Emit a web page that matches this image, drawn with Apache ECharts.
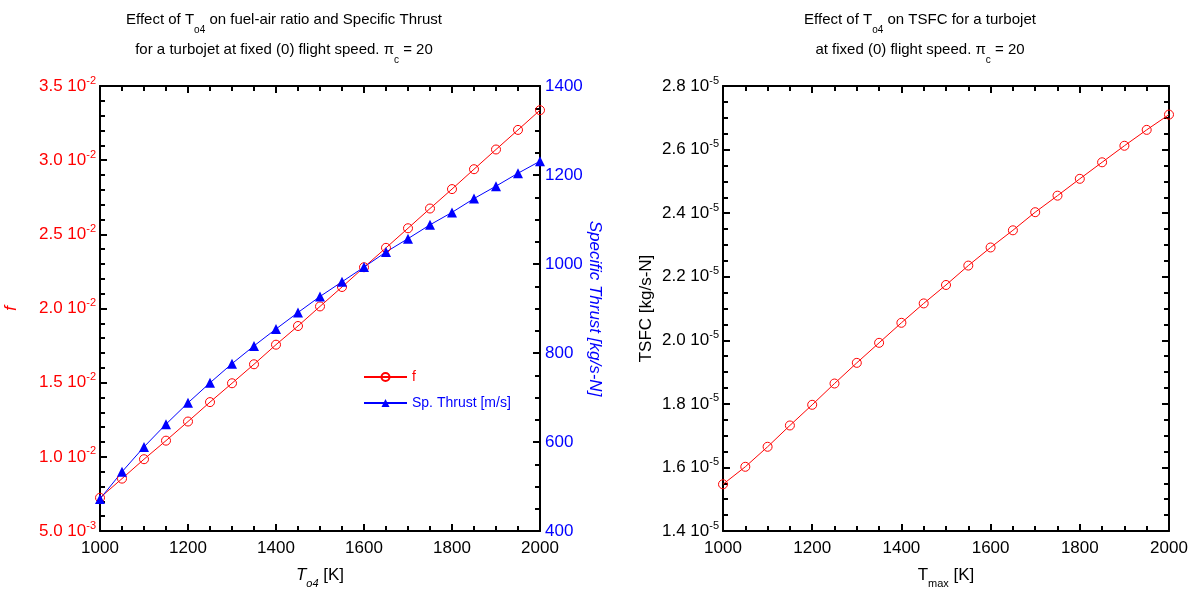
<!DOCTYPE html>
<html>
<head>
<meta charset="utf-8">
<script src="https://cdn.jsdelivr.net/npm/echarts@6/dist/echarts.min.js"></script>
<style>
  html, body { margin: 0; padding: 0; background: #fff; }
  #main { width: 1198px; height: 593px; }
</style>
</head>
<body>
<div id="main"></div>
<script>
// T04 values [K]
let temps = [1000, 1050, 1100, 1150, 1200, 1250, 1300, 1350, 1400, 1450, 1500,
  1550, 1600, 1650, 1700, 1750, 1800, 1850, 1900, 1950, 2000];
// fuel-air ratio f
let fuelAir = [0.00724, 0.00853, 0.00984, 0.01109, 0.01238, 0.01369, 0.01496, 0.01624,
  0.01756, 0.01882, 0.02014, 0.02145, 0.02278, 0.02409, 0.02541, 0.02674, 0.02805,
  0.02939, 0.03072, 0.03204, 0.03337];
// specific thrust
let spThrust = [472, 533, 589, 640, 688, 733, 776, 816, 854, 891, 927, 960, 993,
  1027, 1057, 1088, 1116, 1147, 1175, 1204, 1231];
// TSFC [kg/s-N]
let tsfc = [1.547e-5, 1.602e-5, 1.665e-5, 1.732e-5, 1.797e-5, 1.864e-5, 1.929e-5,
  1.992e-5, 2.055e-5, 2.116e-5, 2.174e-5, 2.235e-5, 2.292e-5, 2.346e-5, 2.403e-5,
  2.455e-5, 2.508e-5, 2.560e-5, 2.612e-5, 2.662e-5, 2.710e-5];

let RED = '#ff0000';
let BLUE = '#0000ff';
let FONT = 'Liberation Sans, Arial, sans-serif';

let chart = echarts.init(document.getElementById('main'));

// "3.5 10^-2" style labels
function sci(v) {
  let e = Math.floor(Math.log10(v) + 1e-9);
  let m = v / Math.pow(10, e);
  return '{m|' + m.toFixed(1) + ' 10}{e|' + e + '}';
}
function sciRich(color) {
  return {
    m: { fontSize: 17, color: color, fontFamily: FONT },
    e: { fontSize: 11, color: color, fontFamily: FONT, padding: [0, 0, 11, 0] }
  };
}

let tick = { show: true, inside: true, length: 7, lineStyle: { color: '#000', width: 2 } };
function minor(n) {
  return { show: true, splitNumber: n, length: 5, lineStyle: { color: '#000', width: 2 } };
}
let axLine = { show: true, onZero: false, lineStyle: { color: '#000', width: 2 } };

let titleRich = {
  n: { fontSize: 15, lineHeight: 30, color: '#000', fontWeight: 'normal', fontFamily: FONT },
  s: { fontSize: 10, color: '#000', fontWeight: 'normal', fontFamily: FONT, padding: [20, 0, 0, 0] }
};

let xNameRich = {
  t: { fontSize: 17, fontStyle: 'italic', color: '#000', fontFamily: FONT },
  ti: { fontSize: 17, color: '#000', fontFamily: FONT },
  si: { fontSize: 11, fontStyle: 'italic', color: '#000', fontFamily: FONT, padding: [16, 0, 0, 0] },
  s: { fontSize: 11, color: '#000', fontFamily: FONT, padding: [16, 0, 0, 0] }
};

function xBottom(grid, nameText) {
  return {
    type: 'value', gridIndex: grid, position: 'bottom', min: 1000, max: 2000, interval: 200,
    axisLine: axLine, axisTick: tick, minorTick: minor(4), splitLine: { show: false },
    axisLabel: { color: '#000', fontSize: 17, fontFamily: FONT, margin: 9, formatter: v => String(v) },
    name: nameText, nameLocation: 'middle', nameGap: 31,
    nameTextStyle: { rich: xNameRich }
  };
}
function xTop(grid) {
  return {
    type: 'value', gridIndex: grid, position: 'top', min: 1000, max: 2000, interval: 200,
    axisLine: axLine, axisTick: tick, minorTick: minor(4), splitLine: { show: false },
    axisLabel: { show: false }
  };
}

let hollow = { color: 'rgba(255,255,255,0)', borderColor: RED, borderWidth: 1 };

chart.setOption({
  animation: false,
  textStyle: { fontFamily: FONT },
  title: [{
    text: '{n|Effect of T}{s|o4}{n| on fuel-air ratio and Specific Thrust}\n{n|for a turbojet at fixed (0) flight speed. π}{s|c}{n| = 20}',
    left: 279, top: 0, textAlign: 'center',
    textStyle: { fontWeight: 'normal', rich: titleRich }
  }, {
    text: '{n|Effect of T}{s|o4}{n| on TSFC for a turbojet}\n{n|at fixed (0) flight speed. π}{s|c}{n| = 20}',
    left: 915, top: 0, textAlign: 'center',
    textStyle: { fontWeight: 'normal', rich: titleRich }
  }],
  grid: [
    { left: 100, right: 658, top: 86, bottom: 62, outerBoundsMode: 'none' },
    { left: 723, right: 29, top: 86, bottom: 62, outerBoundsMode: 'none' }
  ],
  legend: {
    left: 358, top: 365, orient: 'vertical',
    itemWidth: 43, itemHeight: 10, itemGap: 12,
    textStyle: { fontSize: 14, fontFamily: FONT },
    data: [
      { name: 'f', textStyle: { color: RED } },
      { name: 'Sp. Thrust [m/s]', textStyle: { color: BLUE } }
    ]
  },
  xAxis: [
    xBottom(0, '{t|T}{si|o4}{ti| [K]}'),
    xTop(0),
    xBottom(1, '{ti|T}{s|max}{ti| [K]}'),
    xTop(1)
  ],
  yAxis: [{
    type: 'value', gridIndex: 0, position: 'left', min: 0.005, max: 0.035, interval: 0.005,
    axisLine: axLine, axisTick: tick, minorTick: minor(5), splitLine: { show: false },
    axisLabel: { formatter: sci, rich: sciRich(RED), margin: 4 },
    name: 'f', nameLocation: 'middle', nameGap: 80,
    nameTextStyle: { color: RED, fontSize: 17, fontStyle: 'italic', fontFamily: FONT }
  }, {
    type: 'value', gridIndex: 0, position: 'right', min: 400, max: 1400, interval: 200,
    axisLine: axLine, axisTick: tick, minorTick: minor(4), splitLine: { show: false },
    axisLabel: { color: BLUE, fontSize: 17, fontFamily: FONT, margin: 5, formatter: v => String(v) },
    name: 'Specific Thrust [kg/s-N]', nameLocation: 'middle', nameGap: 44, nameRotate: -90,
    nameTextStyle: { color: BLUE, fontSize: 17, fontStyle: 'italic', fontFamily: FONT }
  }, {
    type: 'value', gridIndex: 1, position: 'left', min: 1.4e-5, max: 2.8e-5, interval: 0.2e-5,
    axisLine: axLine, axisTick: tick, minorTick: minor(4), splitLine: { show: false },
    axisLabel: { formatter: sci, rich: sciRich('#000'), margin: 4 },
    name: 'TSFC [kg/s-N]', nameLocation: 'middle', nameGap: 68,
    nameTextStyle: { color: '#000', fontSize: 17, fontFamily: FONT }
  }, {
    type: 'value', gridIndex: 1, position: 'right', min: 1.4e-5, max: 2.8e-5, interval: 0.2e-5,
    axisLine: axLine, axisTick: tick, minorTick: minor(4), splitLine: { show: false },
    axisLabel: { show: false }
  }],
  series: [{
    name: 'f', type: 'line', xAxisIndex: 0, yAxisIndex: 0,
    data: temps.map((t, i) => [t, fuelAir[i]]),
    symbol: 'circle', symbolSize: 9,
    itemStyle: hollow,
    lineStyle: { color: RED, width: 1 }
  }, {
    name: 'Sp. Thrust [m/s]', type: 'line', xAxisIndex: 0, yAxisIndex: 1,
    data: temps.map((t, i) => [t, spThrust[i]]),
    symbol: 'triangle', symbolSize: 10,
    itemStyle: { color: BLUE },
    lineStyle: { color: BLUE, width: 1 }
  }, {
    name: 'TSFC', type: 'line', xAxisIndex: 2, yAxisIndex: 2,
    data: temps.map((t, i) => [t, tsfc[i]]),
    symbol: 'circle', symbolSize: 9,
    itemStyle: hollow,
    lineStyle: { color: RED, width: 1 }
  }]
});
</script>
</body>
</html>
